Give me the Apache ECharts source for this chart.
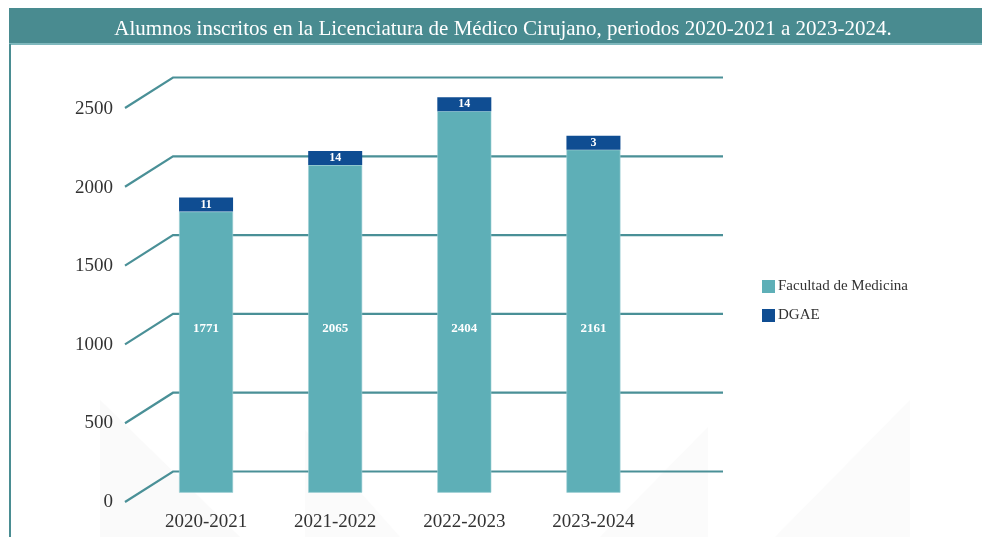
<!DOCTYPE html>
<html>
<head>
<meta charset="utf-8">
<script src="https://cdn.jsdelivr.net/npm/echarts@6/dist/echarts.min.js"></script>
<style>
html,body{margin:0;padding:0;background:#fff;}
#main{width:982px;height:537px;}
</style>
</head>
<body>
<div id="main"></div>
<script>
var titleText = 'Alumnos inscritos en la Licenciatura de Médico Cirujano, periodos 2020-2021 a 2023-2024.';
var categories = ['2020-2021', '2021-2022', '2022-2023', '2023-2024'];
var facultad = [1771, 2065, 2404, 2161];
var dgae = [11, 14, 14, 3];
var tickValues = [0, 500, 1000, 1500, 2000, 2500];
var seriesNames = ['Facultad de Medicina', 'DGAE'];

var FONT = '"Liberation Serif", "DejaVu Serif", serif';
var TEAL_LINE = '#4a9097';
var DX = -48, DY = 30.5;

var chart = echarts.init(document.getElementById('main'), null, {renderer: 'canvas'});

var option = {
  animation: false,
  backgroundColor: '#ffffff',
  graphic: [
    {type: 'polygon', z: -10, silent: true, shape: {points: [[100, 400], [100, 537], [240, 537]]}, style: {fill: '#fafafa'}},
    {type: 'polygon', z: -10, silent: true, shape: {points: [[305, 430], [305, 537], [400, 537]]}, style: {fill: '#fbfbfb'}},
    {type: 'polygon', z: -10, silent: true, shape: {points: [[708, 427], [708, 537], [600, 537]]}, style: {fill: '#fbfbfb'}},
    {type: 'polygon', z: -10, silent: true, shape: {points: [[910, 400], [910, 537], [775, 537]]}, style: {fill: '#fbfbfb'}},
    {type: 'rect', z: 10, silent: true, shape: {x: 9, y: 8, width: 973, height: 36}, style: {fill: '#498b90'}},
    {type: 'rect', z: 10, silent: true, shape: {x: 9, y: 43, width: 973, height: 2}, style: {fill: '#7fb8bd'}},
    {type: 'rect', z: 10, silent: true, shape: {x: 9, y: 44, width: 2, height: 493}, style: {fill: '#4a8d92'}},
    {type: 'text', z: 11, silent: true, x: 503, y: 29,
      style: {text: titleText, fill: '#ffffff', font: '21px ' + FONT, textAlign: 'center', textVerticalAlign: 'middle'}}
  ],
  legend: {
    orient: 'vertical',
    left: 757,
    top: 274,
    itemGap: 14,
    itemWidth: 13,
    itemHeight: 13,
    icon: 'rect',
    itemStyle: {borderWidth: 0},
    textStyle: {fontFamily: FONT, fontSize: 15, color: '#333333', padding: [0, 0, 0, -2]},
    data: seriesNames
  },
  grid: [
    {left: 141.5, width: 516.5, top: 95.9, height: 396.8},
    {left: 173, width: 550, top: 77.5, height: 394},
    {left: 125, width: 50, top: 109, height: 393}
  ],
  xAxis: [
    {type: 'category', gridIndex: 0, data: categories,
      axisLine: {show: false}, axisTick: {show: false},
      axisLabel: {fontFamily: FONT, fontSize: 19, color: '#333333', margin: 20}},
    {type: 'value', gridIndex: 1, min: 0, max: 1, show: false},
    {type: 'value', gridIndex: 2, min: 0, max: 1, show: false}
  ],
  yAxis: [
    {type: 'value', gridIndex: 0, min: 0, max: 2500, show: false},
    {type: 'value', gridIndex: 1, min: 0, max: 2500, show: false},
    {type: 'value', gridIndex: 2, min: 0, max: 2500, interval: 500,
      axisLine: {show: false}, axisTick: {show: false}, splitLine: {show: false},
      axisLabel: {fontFamily: FONT, fontSize: 19, color: '#333333', margin: 12,
        formatter: function (v) { return String(v); }}}
  ],
  series: [
    {
      type: 'custom',
      xAxisIndex: 1, yAxisIndex: 1,
      z: 1,
      silent: true,
      data: tickValues.map(function (v) { return [0, v]; }),
      renderItem: function (params, api) {
        var v = api.value(1);
        var p0 = api.coord([0, v]);
        var p1 = api.coord([1, v]);
        return {
          type: 'polyline',
          shape: {points: [[p0[0] + DX, p0[1] + DY], p0, p1]},
          style: {stroke: TEAL_LINE, lineWidth: 2.2, fill: null}
        };
      }
    },
    {
      name: seriesNames[0],
      type: 'bar',
      stack: 'total',
      xAxisIndex: 0, yAxisIndex: 0,
      z: 3,
      barWidth: 54,
      data: facultad,
      itemStyle: {color: '#5eafb7', borderColor: '#9fd0d5', borderWidth: 0.6},
      label: {show: true, position: 'insideBottom', distance: 158,
        fontFamily: FONT, fontSize: 13, fontWeight: 'bold', color: '#ffffff'}
    },
    {
      name: seriesNames[1],
      type: 'bar',
      stack: 'total',
      xAxisIndex: 0, yAxisIndex: 0,
      z: 3,
      barWidth: 54,
      barMinHeight: 14,
      data: dgae,
      itemStyle: {color: '#0f4d92'},
      label: {show: true, position: 'inside',
        fontFamily: FONT, fontSize: 12, fontWeight: 'bold', color: '#ffffff'}
    }
  ]
};

chart.setOption(option);
</script>
</body>
</html>
